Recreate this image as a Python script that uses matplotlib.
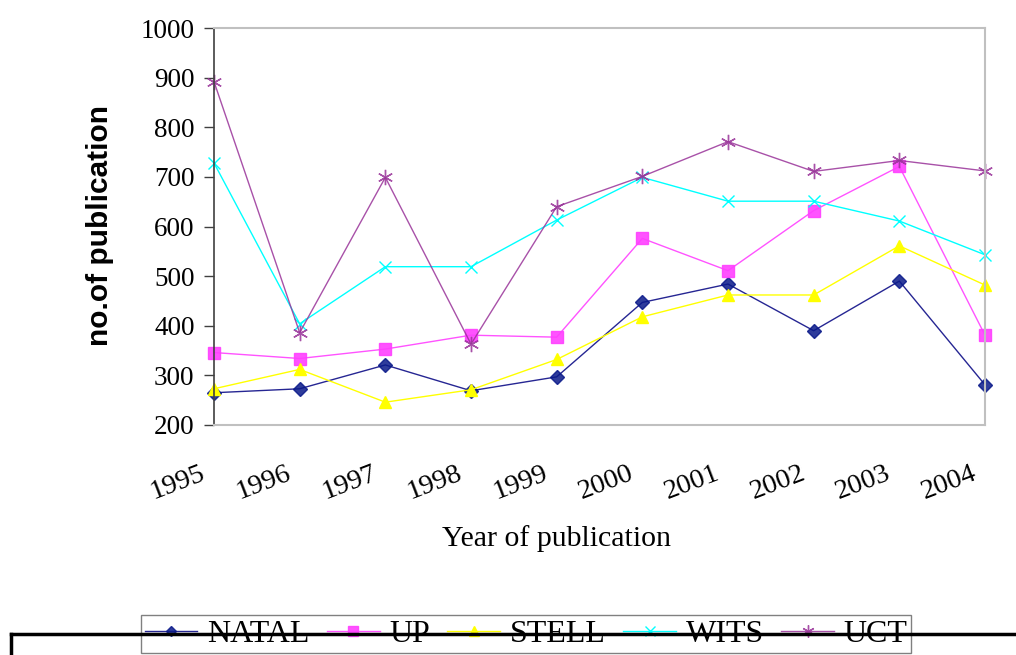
import matplotlib.pyplot as plt
from matplotlib.lines import Line2D
from matplotlib.transforms import ScaledTranslation

years = ["1995", "1996", "1997", "1998", "1999", "2000", "2001", "2002", "2003", "2004"]
natal = [265, 273, 321, 269, 297, 447, 484, 390, 490, 281]
up = [346, 334, 353, 381, 377, 576, 511, 632, 721, 381]
stell = [273, 312, 246, 271, 332, 418, 462, 462, 561, 482]
wits = [728, 404, 519, 519, 613, 699, 651, 651, 611, 543]
uct = [892, 386, 699, 363, 640, 701, 771, 711, 733, 712]

serif = "Liberation Serif"
sans = "Liberation Sans"

fig = plt.figure(figsize=(10.16, 6.55), dpi=100)
ax = fig.add_axes([214 / 1016, 1 - 425 / 655, (985 - 214) / 1016, (425 - 28) / 655])

x = list(range(len(years)))
ax.plot(x, natal, color="#000080", lw=1, marker="D", ms=7, mfc="#0a1a8a", mec="#0a1a8a",
        label="NATAL", alpha=0.85, clip_on=False)
ax.plot(x, up, color="#ff40ff", lw=1, marker="s", ms=8.5, mfc="#ff40ff", mec="#ff40ff",
        label="UP", alpha=0.9, clip_on=False)
ax.plot(x, stell, color="#ffff00", lw=1, marker="^", ms=9, mfc="#ffff00", mec="#ffff00",
        label="STELL", clip_on=False)
ax.plot(x, wits, color="#00ffff", lw=1, marker="x", ms=9, mew=1, label="WITS", clip_on=False)
ax.plot(x, uct, color="#993399", lw=1, marker=(6, 2, 0), ms=11, mew=1, label="UCT",
        alpha=0.85, clip_on=False)

ax.set_xlim(0, 9)
ax.set_ylim(200, 1000)
ax.set_yticks(range(200, 1001, 100))
ax.set_xticks(x)
ax.set_xticklabels(years, rotation=21, ha="right", rotation_mode="anchor")
ax.tick_params(axis="x", length=0, pad=26)
ax.tick_params(axis="y", length=7, width=1, color="#404040", direction="out", pad=7)
for lab in ax.get_yticklabels():
    lab.set_fontfamily(serif)
    lab.set_fontsize(19.5)
# shift year labels a little left of their category
shift = ScaledTranslation(-0.14, 0, fig.dpi_scale_trans)
for lab in ax.get_xticklabels():
    lab.set_fontfamily(serif)
    lab.set_fontsize(20.5)
    lab.set_transform(lab.get_transform() + shift)

for side in ["top", "right", "bottom"]:
    ax.spines[side].set_color("#c0c0c0")
    ax.spines[side].set_linewidth(1.5)
ax.spines["left"].set_color("#404040")
ax.spines["left"].set_linewidth(1.2)

fig.text(556 / 1016, 1 - 539 / 655, "Year of publication", family=serif, fontsize=21.5,
         ha="center", va="center")
fig.text(100 / 1016, 1 - 225 / 655, "no.of publication", family=sans, fontsize=21.5,
         fontweight="bold", rotation=90, ha="center", va="center")

leg = fig.legend(loc="center", bbox_to_anchor=((137 + 915) / 2 / 1016, 1 - 634 / 655),
                 ncol=5, frameon=True, fancybox=False, prop={"family": serif, "size": 23},
                 handlelength=1.65, handletextpad=0.3, columnspacing=0.55,
                 borderpad=0.12, borderaxespad=0, markerscale=0.8)
leg.get_frame().set_edgecolor("#606060")
leg.get_frame().set_linewidth(1)

# black rule across the bottom of the page
ybar = 1 - 634 / 655
fig.add_artist(Line2D([11 / 1016, 1], [ybar, ybar], color="black", lw=2.5, zorder=10))
fig.add_artist(Line2D([11 / 1016, 11 / 1016], [ybar, 0], color="black", lw=2.5, zorder=10))

fig.savefig("out.png", dpi=100)
